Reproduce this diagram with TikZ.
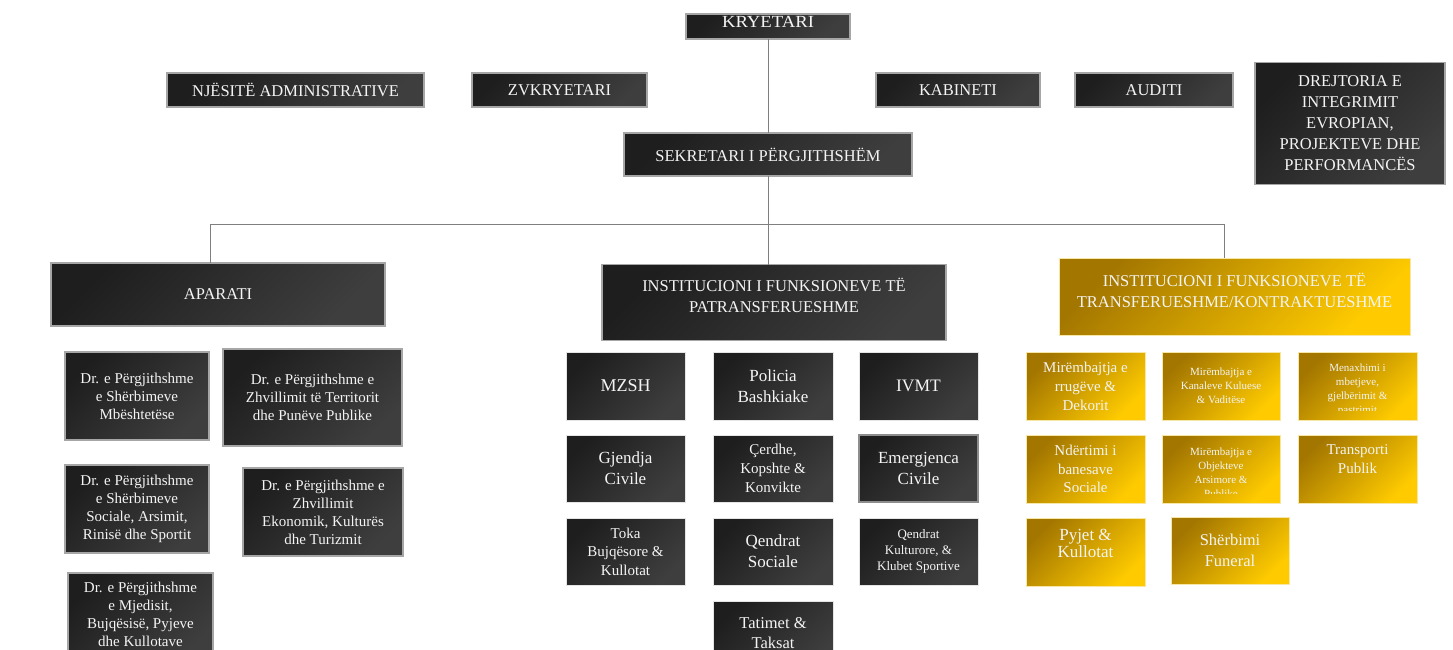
\documentclass[tikz,border=0pt]{standalone}
\usepackage{fontspec}
\setmainfont{Liberation Serif}
\usepackage{graphicx}
\definecolor{dkA}{HTML}{1E1E1E}
\definecolor{dkB}{HTML}{3E3E3E}
\definecolor{gdA}{HTML}{A37600}
\definecolor{gdB}{HTML}{FFCB00}
\definecolor{bd}{HTML}{A6A6A6}
\definecolor{gbd}{HTML}{F7E7A6}
\definecolor{ln}{HTML}{7F7F7F}
\definecolor{tx}{HTML}{F4F4F4}
\tikzset{
  base/.style={inner sep=0pt, outer sep=0pt, align=center, text=tx},
  wh/.style 2 args={minimum width=#1pt, minimum height=#2pt},
  fs/.style 2 args={font=\fontsize{#1}{#2}\selectfont},
  dkbox/.style={base, draw=bd, line width=1.3pt, top color=dkA, bottom color=dkB, shading angle=45},
  thinbox/.style={dkbox, draw=white!90!black, line width=0.6pt},
  gdbox/.style={base, draw=gbd, line width=0.8pt, top color=gdA, bottom color=gdB, shading angle=45},
  lbl/.style={base},
  conn/.style={draw=ln, line width=1pt},
}
\begin{document}
\begin{tikzpicture}[x=1pt, y=-1pt]
\useasboundingbox (0,0) rectangle (1453,650);
\clip (0,0) rectangle (1453,650);
\fill[white] (0,0) rectangle (1453,650);

% top level
\node[dkbox, wh={164}{25}] (kry) at (768,26.5) {};
\node[lbl, fs={17}{20}] (kryT) at (768,22) {\scalebox{1.1}[1]{KRYETARI}};

\node[dkbox, wh={257}{34}, fs={16.5}{20}] (nje) at (295.5,90) {NJËSITË ADMINISTRATIVE};
\node[dkbox, wh={175}{34}, fs={16.5}{20}] (zvk) at (559.5,90) {ZVKRYETARI};
\node[dkbox, wh={164}{34}, fs={16.5}{20}] (kab) at (958,90) {KABINETI};
\node[dkbox, wh={158}{34}, fs={16.5}{20}] (aud) at (1154,90) {AUDITI};
\node[dkbox, wh={190}{122}, fs={16.5}{21}] (dre) at (1350,123.5)
  {DREJTORIA E\\INTEGRIMIT\\EVROPIAN,\\PROJEKTEVE DHE\\PERFORMANCËS};
\node[dkbox, wh={288}{43}, fs={16.5}{20}] (sek) at (768,154.5) {SEKRETARI I PËRGJITHSHËM};

% second level
\node[dkbox, wh={334}{63}, fs={16.5}{20}] (apa) at (218,294.5) {APARATI};
\node[dkbox, wh={344}{76}] (inst) at (774,302.5) {};
\node[lbl, fs={16.5}{21}] (instT) at (774,295.5) {INSTITUCIONI I FUNKSIONEVE TË\\PATRANSFERUESHME};
\node[gdbox, wh={351}{77}] (gold) at (1234.5,296.5) {};
\node[lbl, fs={16.5}{21}] (goldT) at (1234.5,290.5) {INSTITUCIONI I FUNKSIONEVE TË\\TRANSFERUESHME/KONTRAKTUESHME};

% connectors
\coordinate (jM) at (768,224);
\coordinate (jL) at (210,224);
\coordinate (jR) at (1224,224);
\draw[conn] (kry.south) -- (sek.north);
\draw[conn] (sek.south) -- (jM);
\draw[conn] (jL |- apa.north) -- (jL) -- (jR) -- (jR |- gold.north);
\draw[conn] (jM) -- (jM |- inst.north);

% APARATI children
\node[dkbox, wh={144}{88}, fs={15}{18}] (dr1) at (137,396)
  {Dr. e Përgjithshme\\e Shërbimeve\\Mbështetëse};
\node[dkbox, wh={179}{97}, fs={15}{18}] (dr2) at (312.5,397.5)
  {Dr. e Përgjithshme e\\Zhvillimit të Territorit\\dhe Punëve Publike};
\node[dkbox, wh={144}{88}, fs={15}{18}] (dr3) at (137,509)
  {Dr. e Përgjithshme\\e Shërbimeve\\Sociale, Arsimit,\\Rinisë dhe Sportit};
\node[dkbox, wh={160}{88}, fs={15}{18}] (dr4) at (323,512)
  {Dr. e Përgjithshme e\\Zhvillimit\\Ekonomik, Kulturës\\dhe Turizmit};
\node[dkbox, wh={145}{88}] (dr5) at (140.5,617) {};
\node[lbl, fs={15}{18}] (dr5T) at (140.5,614)
  {Dr. e Përgjithshme\\e Mjedisit,\\Bujqësisë, Pyjeve\\dhe Kullotave};

% non-transferable children
\node[thinbox, wh={119}{68}, fs={18}{21}] (mz) at (625.5,386) {MZSH};
\node[thinbox, wh={120}{68}, fs={17}{21}] (po) at (773,386) {Policia\\Bashkiake};
\node[thinbox, wh={119}{68}, fs={17.5}{21}] (iv) at (918.5,386) {IVMT};
\node[thinbox, wh={119}{67}, fs={17}{21}] (gj) at (625.5,468.5) {Gjendja\\Civile};
\node[thinbox, wh={120}{67}, fs={15}{19}] (ce) at (773,468.5) {Çerdhe,\\Kopshte \&\\Konvikte};
\node[dkbox, draw=bd!85!black, line width=1.8pt, wh={119}{67}, fs={17}{21}] (em) at (918.5,468.5) {Emergjenca\\Civile};
\node[thinbox, wh={119}{67}, fs={15}{18.5}] (to) at (625.5,551.5) {Toka\\Bujqësore \&\\Kullotat};
\node[thinbox, wh={120}{67}, fs={17}{21}] (qs) at (773,551.5) {Qendrat\\Sociale};
\node[thinbox, wh={119}{67}, fs={13}{16}] (qk) at (918.5,551.5) {Qendrat\\Kulturore, \&\\Klubet Sportive};
\node[thinbox, wh={120}{68}] (ta) at (773,635) {};
\node[lbl, fs={16.5}{20}] (taT) at (773,633) {Tatimet \&\\Taksat};

% transferable children
\node[gdbox, wh={119}{68}, fs={15}{19}] (g1) at (1085.5,386) {Mirëmbajtja e\\rrugëve \&\\Dekorit};
\node[gdbox, wh={118}{68}, fs={11}{14}] (g2) at (1221,386) {Mirëmbajtja e\\Kanaleve Kuluese\\\& Vaditëse};
\node[gdbox, wh={119}{68}] (g3) at (1357.5,386) {};
\begin{scope}
  \clip (1298,352) rectangle (1417,410);
  \node[lbl, fs={11}{14}] (g3T) at (1357.5,389.5) {Menaxhimi i\\mbetjeve,\\gjelbërimit \&\\pastrimit};
\end{scope}
\node[gdbox, wh={119}{68}, fs={15}{18.5}] (g4) at (1085.5,469) {Ndërtimi i\\banesave\\Sociale};
\node[gdbox, wh={118}{68}] (g5) at (1221,469) {};
\begin{scope}
  \clip (1162,435) rectangle (1280,493);
  \node[lbl, fs={11}{14}] (g5T) at (1221,472.5) {Mirëmbajtja e\\Objekteve\\Arsimore \&\\Publike};
\end{scope}
\node[gdbox, wh={119}{68}] (g6) at (1357.5,469) {};
\node[lbl, fs={15}{19}] (g6T) at (1357.5,459.5) {Transporti\\Publik};
\node[gdbox, wh={119}{68}] (g7) at (1085.5,552) {};
\node[lbl, fs={17}{17.5}] (g7T) at (1085.5,543.5) {Pyjet \&\\Kullotat};
\node[gdbox, wh={118}{67}, fs={16.5}{21}] (g8) at (1230,550.5) {Shërbimi\\Funeral};
\end{tikzpicture}
\end{document}
